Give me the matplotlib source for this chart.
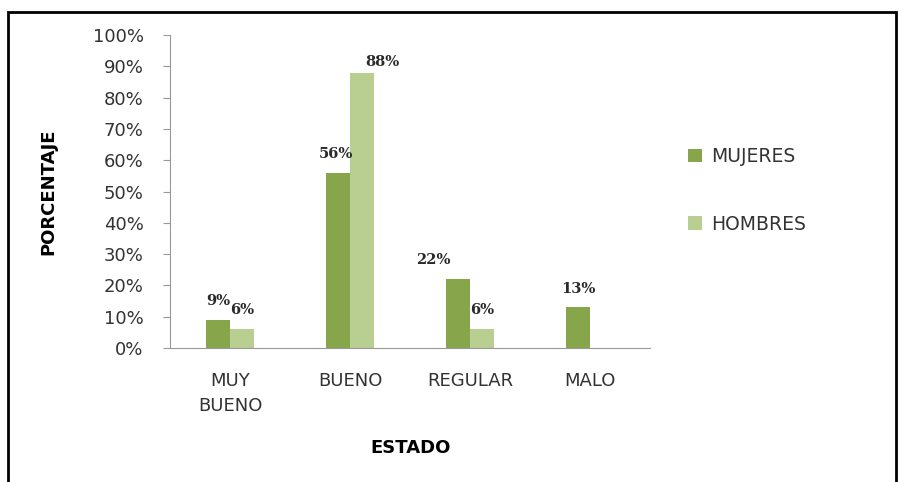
import matplotlib.pyplot as plt
from matplotlib.patches import Rectangle
import numpy as np

categories = ["MUY\nBUENO", "BUENO", "REGULAR", "MALO"]
mujeres = [9, 56, 22, 13]
hombres = [6, 88, 6, 0]
mujeres_labels = ["9%", "56%", "22%", "13%"]
hombres_labels = ["6%", "88%", "6%", None]

plt.rcParams['font.family'] = ['DejaVu Sans']

fig = plt.figure(figsize=(9.01, 4.82), dpi=100)
ax = fig.add_axes([0.1887, 0.278, 0.533, 0.649])

x = np.arange(len(categories))
w = 0.2
dark = "#87a54b"
light = "#b9cf92"

ax.bar(x - w / 2, mujeres, w, color=dark, label="MUJERES")
ax.bar(x + w / 2, hombres, w, color=light, label="HOMBRES")

# data labels (Excel placed a couple of them off-centre), shifts in px
m_shift = [0, -2, -25, 0]
h_shift = [0, 20, 0, 0]
m_up = [12, 12, 12, 11]
h_up = [12, 4, 12, 12]
for i in range(len(categories)):
    ax.annotate(mujeres_labels[i], (x[i] - w / 2, mujeres[i]),
                xytext=(m_shift[i] * 0.72, m_up[i] * 0.72),
                textcoords="offset points", ha="center", va="bottom", fontsize=10.5,
                family="DejaVu Serif", fontweight="bold", color="#2a2a2a")
    if hombres_labels[i]:
        ax.annotate(hombres_labels[i], (x[i] + w / 2, hombres[i]),
                    xytext=(h_shift[i] * 0.72, h_up[i] * 0.72),
                    textcoords="offset points", ha="center", va="bottom", fontsize=10.5,
                    family="DejaVu Serif", fontweight="bold", color="#2a2a2a")

ax.set_xlim(-0.5, 3.5)
ax.set_ylim(0, 100)
ax.set_yticks(range(0, 101, 10))
ax.set_yticklabels([f"{v}%" for v in range(0, 101, 10)], fontsize=13, color="#333333")
ax.set_xticks(x)
ax.set_xticklabels(categories, fontsize=13, color="#333333", linespacing=1.5)
ax.tick_params(axis="x", length=0, pad=17)
ax.tick_params(axis="y", length=5, color="#999999", pad=14)

for s in ["top", "right"]:
    ax.spines[s].set_visible(False)
ax.spines["left"].set_color("#999999")
ax.spines["bottom"].set_color("#999999")

ax.set_xlabel("ESTADO", fontsize=13, fontweight="bold")
ax.set_ylabel("PORCENTAJE", fontsize=13, fontweight="bold")
ax.yaxis.set_label_coords(-0.235, 0.5)
ax.xaxis.set_label_coords(0.5, -0.29)

leg = fig.legend(loc="upper left", bbox_to_anchor=(0.745, 0.73), frameon=False, fontsize=13.5,
                 handlelength=0.75, handleheight=0.75, labelspacing=2.6, handletextpad=0.5,
                 labelcolor="#333333")

# outer frame
fig.patches.append(Rectangle((0.009, -0.05), 0.986, 1.025, transform=fig.transFigure,
                             fill=False, edgecolor="black", linewidth=2))

fig.savefig("out.png", dpi=100)
